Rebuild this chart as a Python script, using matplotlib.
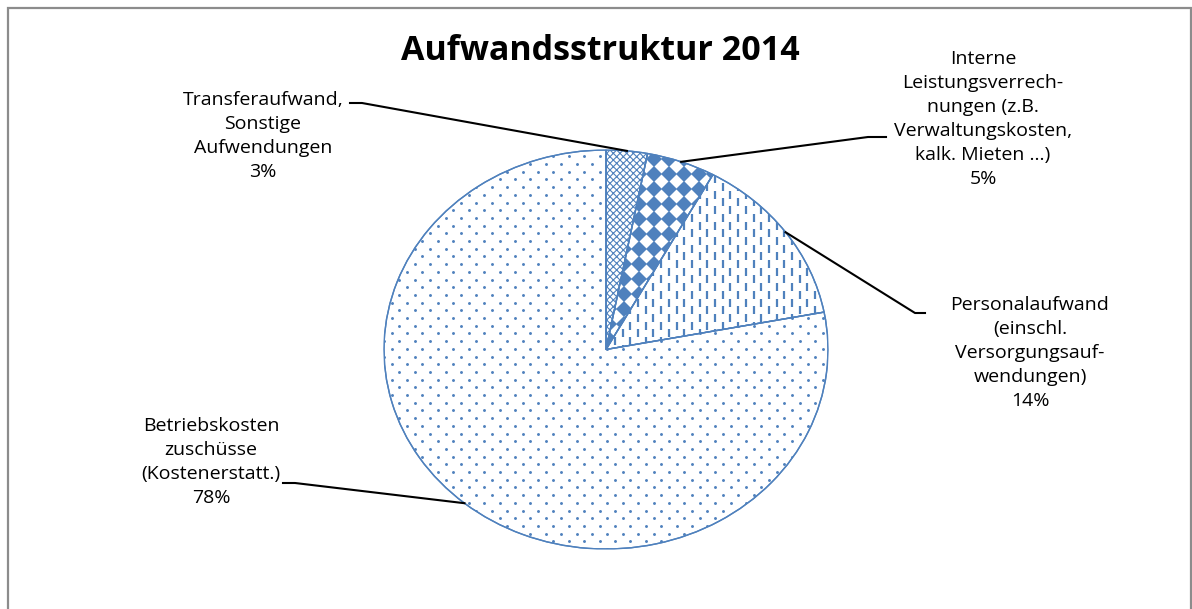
import numpy as np
import matplotlib
matplotlib.use("Agg")
import matplotlib.pyplot as plt
from matplotlib.patches import PathPatch

# Anteile der Aufwandsarten (in %)
labels = [
    "Transferaufwand,\nSonstige\nAufwendungen",
    "Interne\nLeistungsverrech-\nnungen (z.B.\nVerwaltungskosten,\nkalk. Mieten ...)",
    "Personalaufwand\n(einschl.\nVersorgungsauf-\nwendungen)",
    "Betriebskosten\nzuschüsse\n(Kostenerstatt.)",
]
shares = [3, 5, 14, 78]
title = "Aufwandsstruktur 2014"

# Beschriftungspositionen (Pixel, y von oben) und Knickpunkte der Führungslinien
label_xy = [(263, 136), (983, 119), (1030, 353), (211, 462)]
elbow_xy = [[(362, 103), (350, 103)], [(868, 137), (886, 137)],
            [(915, 313), (925, 313)], [(295, 483), (283, 483)]]

W, H = 1192, 609
blue = "#4F81BD"
plt.rcParams["font.family"] = ["Open Sans", "DejaVu Sans"]
plt.rcParams["hatch.linewidth"] = 0.8

fig = plt.figure(figsize=(W / 100, H / 100), dpi=100)
fig.patch.set_facecolor("white")

# Kreis leicht gestreckt
ax = fig.add_axes([384 / W, 1 - 549 / H, 444 / W, 399 / H])
wedges, _ = ax.pie(shares, startangle=90, counterclock=False, radius=1,
                   wedgeprops=dict(facecolor="white", edgecolor=blue, linewidth=1.0))
ax.set_aspect("auto")
ax.set_xlim(-1, 1)
ax.set_ylim(-1, 1)
ax.axis("off")

ux = ax.bbox.width / 2
uy = ax.bbox.height / 2


def lattice(dx, dy, shift=0.0, by_col=False):
    gx, gy = np.meshgrid(np.arange(-ux - dx, ux + dx, dx), np.arange(-uy - dy, uy + dy, dy))
    if shift:
        if by_col:
            gy = gy + (np.arange(gx.shape[1])[None, :] % 2) * shift
        else:
            gx = gx + (np.arange(gy.shape[0])[:, None] % 2) * shift
    return gx.ravel() / ux, gy.ravel() / uy


# Muster: Gitter, Rauten, Striche, Punkte
wedges[0].set_hatch("xxxxx")

x, y = lattice(15, 15)
pat1, = ax.plot(x, y, ls="none", marker="D", ms=8.3, color=blue, mew=0, zorder=2)
pat1.set_clip_path(wedges[1])

x, y = lattice(7.7, 15.4, 7.7, by_col=True)
pat2, = ax.plot(x, y, ls="none", marker="|", ms=6.0, mew=1.6, color=blue, zorder=2)
pat2.set_clip_path(wedges[2])

x, y = lattice(15.4, 7.7, 7.7)
pat3, = ax.plot(x, y, ls="none", marker="o", ms=2.1, mew=0, color=blue, zorder=2)
pat3.set_clip_path(wedges[3])

for w in wedges:
    ax.add_patch(PathPatch(w.get_path(), transform=ax.transData, fill=False,
                           edgecolor=blue, linewidth=1.0, zorder=3))

# Overlay in Pixelkoordinaten für Titel, Beschriftungen, Rahmen
ov = fig.add_axes([0, 0, 1, 1], zorder=5)
ov.set_xlim(0, W)
ov.set_ylim(H, 0)
ov.axis("off")
ov.patch.set_alpha(0)

ov.plot([7.5, 7.5, 1191, 1191], [H + 5, 7.5, 7.5, H + 5], color="#8c8c8c", lw=1.6,
        solid_joinstyle="miter", clip_on=False)

ov.text(600, 51, title, ha="center", va="center", fontsize=24.5, fontweight="bold")

fig.canvas.draw()
for w, lab, (tx, ty), elb in zip(wedges, labels, label_xy, elbow_xy):
    mid = np.deg2rad((w.theta1 + w.theta2) / 2)
    px, py = ax.transData.transform((np.cos(mid), np.sin(mid)))
    ov.plot([px, elb[0][0], elb[1][0]], [H - py, elb[0][1], elb[1][1]],
            color="black", lw=1.5)
    pct = w.theta2 - w.theta1
    ov.text(tx, ty, f"{lab}\n{round(pct / 3.6):d}%", ha="center", va="center",
            fontsize=14, linespacing=1.43)

fig.savefig("out.png", dpi=100, facecolor="white")
